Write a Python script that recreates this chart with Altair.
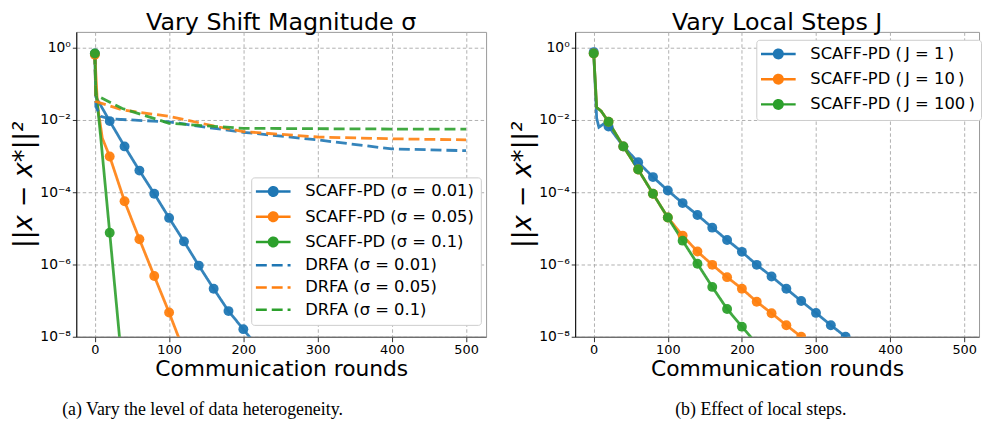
import json
import altair as alt
import pandas as pd

FONT = "DejaVu Sans"
SERIF = "Liberation Serif"

# ---------------- panel (a): Vary Shift Magnitude sigma ----------------
A_SERIES = ["SCAFF-PD (σ = 0.01)", "SCAFF-PD (σ = 0.05)", "SCAFF-PD (σ = 0.1)",
            "DRFA (σ = 0.01)", "DRFA (σ = 0.05)", "DRFA (σ = 0.1)"]
A_COLORS = ["#1f77b4", "#ff7f0e", "#2ca02c", "#1f77b4", "#ff7f0e", "#2ca02c"]

# values stored as log10 of ||x - x*||^2
a_scaff_001_rounds = [0, 1.3, 20, 40, 60, 80, 100, 120, 140, 160, 180, 200, 220]
a_scaff_001_log = [-0.16, -1.36, -2.03, -2.73, -3.40, -4.04, -4.71, -5.36, -6.03, -6.67, -7.29, -7.79, -8.3]
a_scaff_005_rounds = [0, 3.5, 10, 20, 40, 60, 80, 100, 120]
a_scaff_005_log = [-0.19, -1.58, -2.5, -3.01, -4.25, -5.30, -6.32, -7.33, -8.4]
a_scaff_01_rounds = [0, 1.3, 8, 20, 40]
a_scaff_01_log = [-0.16, -1.13, -2.5, -5.12, -9.5]
a_drfa_001_rounds = [0, 1.3, 8, 20, 100, 150, 200, 300, 400, 500]
a_drfa_001_log = [-0.16, -1.63, -1.9, -1.97, -2.05, -2.2, -2.34, -2.55, -2.80, -2.85]
a_drfa_005_rounds = [0, 1.3, 37, 100, 164, 200, 300, 400, 500]
a_drfa_005_log = [-0.16, -1.49, -1.72, -1.90, -2.18, -2.32, -2.47, -2.52, -2.55]
a_drfa_01_rounds = [0, 1.3, 37, 100, 200, 300, 400, 500]
a_drfa_01_log = [-0.16, -1.31, -1.68, -2.09, -2.23, -2.24, -2.25, -2.25]

# ---------------- panel (b): Vary Local Steps J ----------------
B_SERIES = ["SCAFF-PD (\u2009J = 1\u2009)", "SCAFF-PD (\u2009J = 10\u2009)", "SCAFF-PD (\u2009J = 100\u2009)"]
B_COLORS = ["#1f77b4", "#ff7f0e", "#2ca02c"]

b_j1_rounds = [0, 4, 7, 14, 20, 40, 60, 80, 100, 120, 140, 160, 180, 200, 220, 240, 260, 280, 300, 320, 340, 360]
b_j1_log = [-0.12, -1.95, -2.2, -2.1, -2.18, -2.73, -3.17, -3.58, -3.95, -4.30, -4.63, -4.98, -5.32, -5.65,
            -6.01, -6.33, -6.67, -7.01, -7.34, -7.68, -8.0, -8.33]
b_j10_rounds = [0, 4, 10, 20, 40, 60, 80, 100, 120, 140, 160, 180, 200, 220, 240, 260, 280, 300]
b_j10_log = [-0.16, -1.65, -1.75, -2.05, -2.73, -3.37, -4.04, -4.70, -5.20, -5.64, -6.01, -6.35, -6.67,
             -7.03, -7.35, -7.68, -8.0, -8.33]
b_j100_rounds = [0, 4, 10, 20, 40, 60, 80, 100, 120, 140, 160, 180, 200, 220]
b_j100_log = [-0.16, -1.65, -1.75, -2.05, -2.73, -3.37, -4.04, -4.70, -5.34, -5.98, -6.62, -7.23, -7.72, -8.2]

X_TICKS = [0, 100, 200, 300, 400, 500]
Y_TICKS = [1, 1e-2, 1e-4, 1e-6, 1e-8]
Y_LABELS = ["10⁰", "10⁻²", "10⁻⁴", "10⁻⁶", "10⁻⁸"]
Y_TOP = 10 ** 0.44

TITLES = ["Vary Shift Magnitude σ", "Vary Local Steps J"]
CAPTIONS = ["(a) Vary the level of data heterogeneity.", "(b) Effect of local steps."]

SOLID = [1, 0]
DASH = [11, 5]
R = [0.86, 0.48, 0.12]
DOT = "".join(f"M{r},0A{r},{r},0,1,1,-{r},0A{r},{r},0,1,1,{r},0" for r in R)
LINE_DOT = "M-3.5,0H3.5" + DOT
LINE_ONLY = "M-3.5,0H3.5"


def build(series_list):
    rows = []
    for name, method, rounds, logs in series_list:
        for r, v in zip(rounds, logs):
            rows.append({"series": name, "round": r, "val": 10 ** v,
                         "marker": method == "SCAFF" and r % 20 == 0})
    return pd.DataFrame(rows)


df_a = build([
    (A_SERIES[0], "SCAFF", a_scaff_001_rounds, a_scaff_001_log),
    (A_SERIES[1], "SCAFF", a_scaff_005_rounds, a_scaff_005_log),
    (A_SERIES[2], "SCAFF", a_scaff_01_rounds, a_scaff_01_log),
    (A_SERIES[3], "DRFA", a_drfa_001_rounds, a_drfa_001_log),
    (A_SERIES[4], "DRFA", a_drfa_005_rounds, a_drfa_005_log),
    (A_SERIES[5], "DRFA", a_drfa_01_rounds, a_drfa_01_log),
])
df_b = build([
    (B_SERIES[0], "SCAFF", b_j1_rounds, b_j1_log),
    (B_SERIES[1], "SCAFF", b_j10_rounds, b_j10_log),
    (B_SERIES[2], "SCAFF", b_j100_rounds, b_j100_log),
])

label_expr = json.dumps(Y_LABELS, ensure_ascii=False) + "[round(-log(datum.value)/LN10/2)]"


def panel(df, domain, colors, dashes, shapes, title, xmax, width, lx, ly, caption, cap_x):
    xs = alt.Scale(domain=[-25, xmax], nice=False, zero=False)
    ys = alt.Scale(type="log", domain=[1e-8, Y_TOP], nice=False)
    xenc = alt.X("round:Q", scale=xs, axis=alt.Axis(
        values=X_TICKS, format="d", title="Communication rounds", titleFontSize=22,
        titleFont=FONT, titleFontWeight="normal", titleY=32, titleBaseline="middle",
        labelFontSize=13, labelFont=FONT, tickSize=5, labelPadding=2, domainColor="#555555",
        tickColor="#333333", labelColor="black", titleColor="black",
        gridDash=[3.5, 2.5], gridColor="#b0b0b0", labelFlush=False))
    yenc = alt.Y("val:Q", scale=ys, axis=alt.Axis(
        values=Y_TICKS, labelExpr=label_expr, title="||x − x*||²", titleFontSize=26,
        titleFont=FONT, titleFontWeight="normal", titleFontStyle="italic", titleAngle=270,
        titleX=-53, titleY=154, titleBaseline="middle", titleAlign="center",
        labelFontSize=14, labelFont=FONT, tickSize=4, labelPadding=2, domainColor="black",
        tickColor="#333333", labelColor="black", titleColor="black",
        gridDash=[3.5, 2.5], gridColor="#b0b0b0", labelFlush=False))
    cscale = alt.Scale(domain=domain, range=colors)
    dscale = alt.Scale(domain=domain, range=dashes)
    sscale = alt.Scale(domain=domain, range=shapes)
    leg = alt.Legend(title=None, orient="none", legendX=lx, legendY=ly, direction="vertical",
                     fillColor="white", strokeColor="#cccccc", cornerRadius=3, padding=6,
                     rowPadding=5.5, symbolSize=100, symbolStrokeWidth=2.5, symbolOffset=8,
                     labelOffset=24, labelFontSize=16.5, labelFont=FONT, labelColor="black",
                     symbolOpacity=1, labelLimit=400)

    lines = alt.Chart(df).mark_line(clip=True, strokeWidth=2.8, opacity=0.9).encode(
        x=xenc, y=yenc,
        color=alt.Color("series:N", scale=cscale, legend=None),
        strokeDash=alt.StrokeDash("series:N", scale=dscale, legend=None),
    )
    points = alt.Chart(df).transform_filter("datum.marker").mark_circle(
        clip=True, size=100, opacity=0.95).encode(
        x=xenc, y=yenc, color=alt.Color("series:N", scale=cscale, legend=None))
    legend_layer = alt.Chart(df).mark_point(filled=False, opacity=0, clip=True).encode(
        x=xenc, y=yenc,
        color=alt.Color("series:N", scale=cscale, legend=leg),
        shape=alt.Shape("series:N", scale=sscale, legend=leg),
        strokeDash=alt.StrokeDash("series:N", scale=dscale, legend=leg),
    )
    cap = alt.Chart(pd.DataFrame({"t": [caption]})).mark_text(
        font=SERIF, fontSize=18, align="center", baseline="middle", color="black").encode(
        text="t:N", x=alt.value(cap_x), y=alt.value(382))
    return alt.layer(lines, points, legend_layer, cap).resolve_scale(
        color="independent", strokeDash="independent", shape="independent"
    ).resolve_legend(
        color="independent", strokeDash="independent", shape="independent"
    ).properties(
        width=width, height=308,
        title=alt.TitleParams(title, font=FONT, fontSize=24, fontWeight="normal",
                              color="black", offset=-3, anchor="middle"))


left = panel(df_a, A_SERIES, A_COLORS, [SOLID] * 3 + [DASH] * 3, [LINE_DOT] * 3 + [LINE_ONLY] * 3,
             TITLES[0], 527, 414, 176.7, 147, CAPTIONS[0], 127.5)
right = panel(df_b, B_SERIES, B_COLORS, [SOLID] * 3, [LINE_DOT] * 3,
              TITLES[1], 520, 408, 183, 8, CAPTIONS[1], 187.5)

chart = alt.hconcat(left, right, spacing=90, bounds="flush").resolve_scale(
    x="independent", y="independent", color="independent",
    strokeDash="independent", shape="independent"
).resolve_legend(
    color="independent", strokeDash="independent", shape="independent"
).properties(
    padding={"left": 2, "top": 0, "right": 0, "bottom": 0}
).configure_view(stroke="#999999", strokeWidth=1)

chart.save("out.html", embed_options={"renderer": "svg", "actions": False})
